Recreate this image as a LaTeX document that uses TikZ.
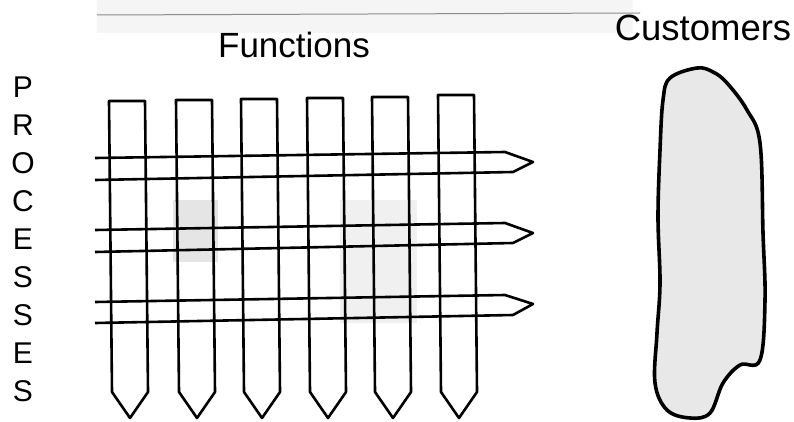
\documentclass[tikz,border=0pt]{standalone}
\usepackage{fontspec}
\setmainfont{Liberation Sans}
\tikzset{col/.style={line width=2.6pt,line join=round},
	lab/.style={font=\fontsize{35}{40}\selectfont,inner sep=0pt},
	lett/.style={font=\fontsize{30}{32}\selectfont,inner sep=0pt}}
\usetikzlibrary{positioning,calc}

\begin{document}
\begin{tikzpicture}[x=1pt,y=-1pt]
	\useasboundingbox (0,0) rectangle (794,422);
	% faint band and rule at the top
	\fill[black!4] (97,0) rectangle (633,33);
	\draw[black!45,line width=1pt] (97,15) -- (640,13);
	% shaded cells
	\fill[black!10] (173,200) rectangle (218,262);
	\fill[black!6] (340,200) rectangle (417,323);
	
	\node[lab] (functions) at (294,45) {Functions};
	\node[lab,font=\fontsize{36.5}{40}\selectfont] (customers) at (703,28) {Customers};
	
	\foreach \x/\t in {109/101,176/100,241/99,307/98,372/97,438/95}{
		\draw[col] (\x+3,392) -- (\x,\t) -- (\x+36,\t) -- (\x+39,392) -- (\x+21,418) -- cycle;
	}
	\foreach \a/\b/\c/\d/\e in {158/152/162/172/180,230/223/233/243/252,302/295/304/315/323}{
		\draw[col] (95,\a) -- (505,\b) -- (533,\c) -- (513,\d) -- (95,\e);
	}
	
	\foreach \l [count=\i] in {P,R,O,C,E,S,S,E,S}{
		\node[lett] (p\i) at (23,{49+38*\i}) {\l};
	}
	
	\draw[line width=3.6pt,fill=black!9] plot[smooth cycle,tension=0.6] coordinates {
		(697,68) (670,78) (663,100) (660,150) (658,217) (660,283) (657,333)
		(655,383) (667,410) (690,418) (710,413) (723,383) (740,365) (760,360)
		(765,300) (763,233) (760,143) (747,110) (727,83) (713,72)};
\end{tikzpicture}
\end{document}
